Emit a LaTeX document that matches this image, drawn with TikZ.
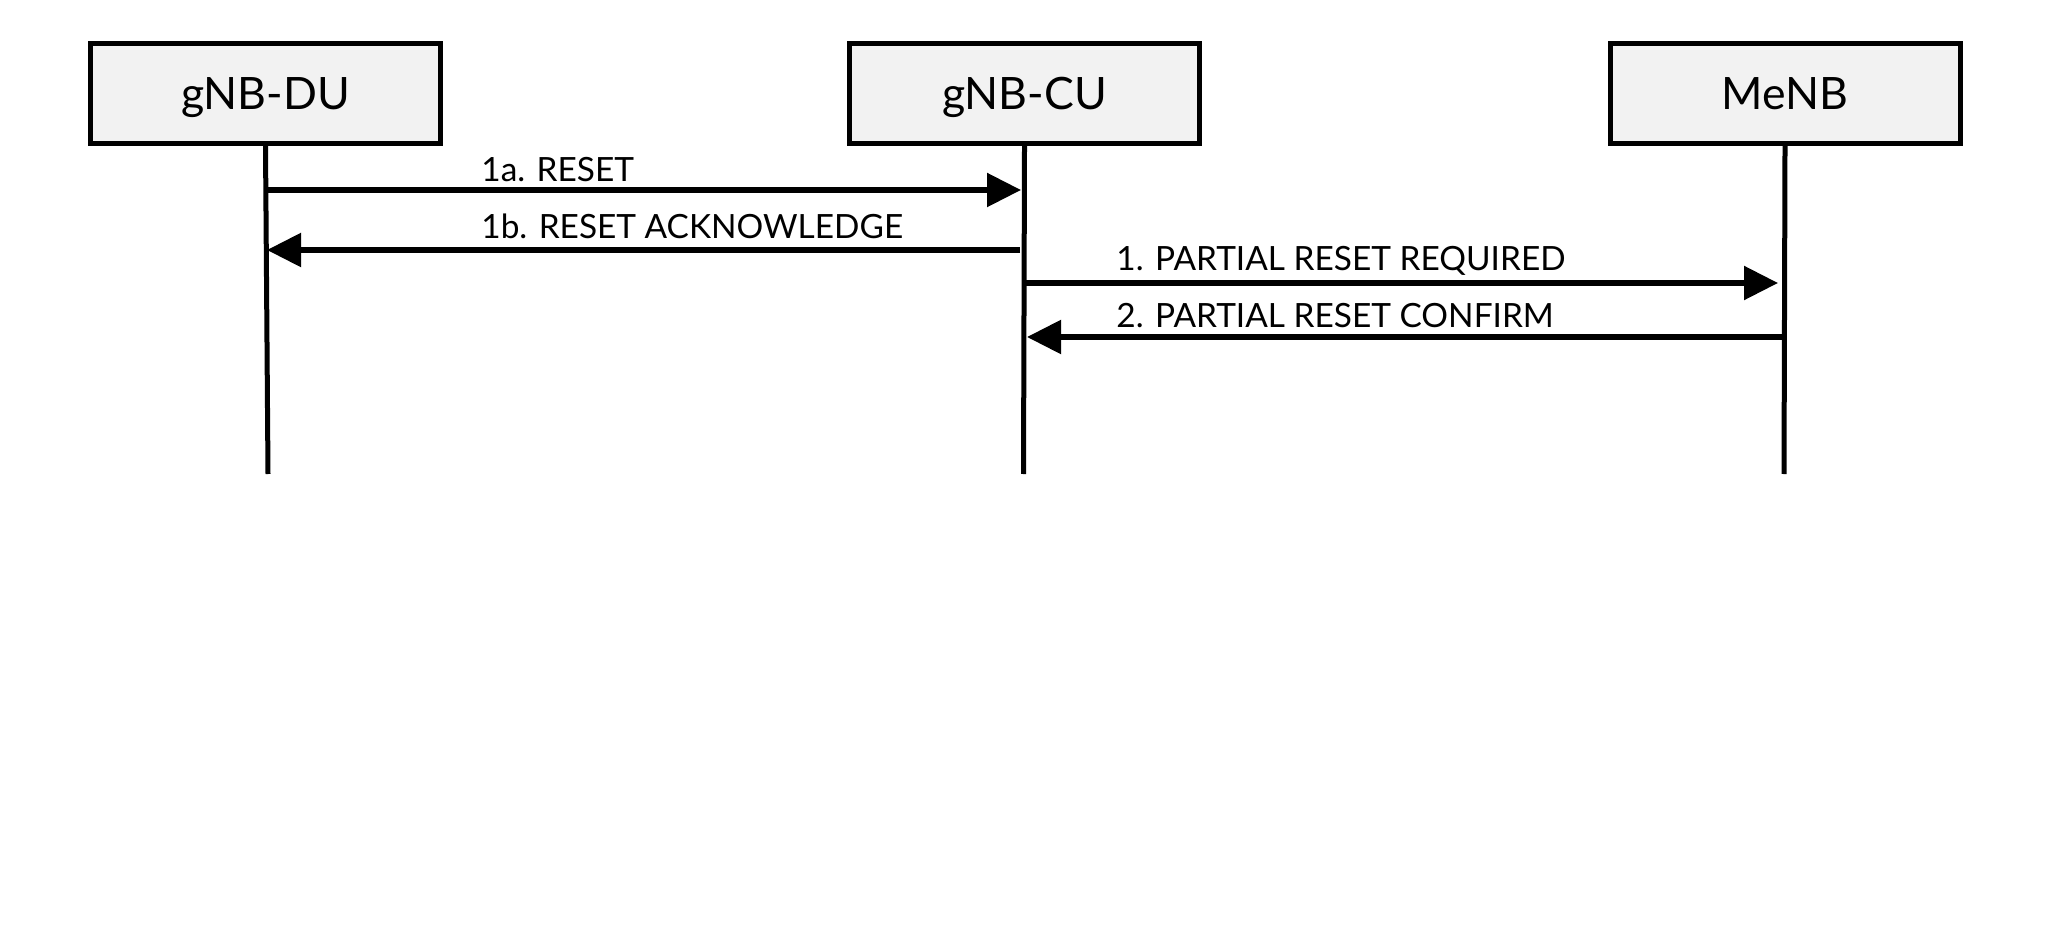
\documentclass[tikz,border=0pt]{standalone}
\usepackage{fontspec}
\setmainfont{Lato}
\usetikzlibrary{arrows.meta}
\begin{document}
\begin{tikzpicture}[x=0.5pt,y=-0.5pt,
  entity/.style={draw=black, line width=2.5pt, fill=black!5, minimum width=175pt, minimum height=50pt, inner sep=0pt, text height=16pt, text depth=0pt, font=\fontsize{22.3}{26}\selectfont},
  lifeline/.style={line width=2.5pt},
  msg/.style={line width=2.7pt, -{Triangle[length=17pt,width=16.5pt]}},
  msglabel/.style={anchor=base west, inner sep=0pt, font=\fontsize{16.7}{20}\selectfont}]
\useasboundingbox (0,0) rectangle (2048,935);
% entities
\node[entity] (du) at (265.5,93.5) {gNB-DU};
\node[entity] (cu) at (1024.5,93.5) {gNB-CU};
\node[entity] (menb) at (1785,93.5) {MeNB};
% lifeline ends
\coordinate (duend) at (268,474);
\coordinate (cuend) at (1023.5,474);
\coordinate (menbend) at (1784,474);
\draw[lifeline] (du.south) -- (duend);
\draw[lifeline] (cu.south) -- (cuend);
\draw[lifeline] (menb.south) -- (menbend);
% message end points on lifelines
\coordinate (du1a) at (266,190);
\coordinate (cu1a) at (1021,190);
\coordinate (cu1b) at (1020,250);
\coordinate (du1b) at (267,250);
\coordinate (cu1) at (1026,283);
\coordinate (menb1) at (1778,283);
\coordinate (menb2) at (1782,337);
\coordinate (cu2) at (1027,337);
% messages
\draw[msg] (du1a) -- (cu1a);
\draw[msg] (cu1b) -- (du1b);
\draw[msg] (cu1) -- (menb1);
\draw[msg] (menb2) -- (cu2);
% labels
\node[msglabel] (l1a) at (481,182) {1a. RESET};
\node[msglabel] (l1b) at (481,239) {1b. RESET ACKNOWLEDGE};
\node[msglabel] (l1) at (1116,271) {1. PARTIAL RESET REQUIRED};
\node[msglabel] (l2) at (1116,328) {2. PARTIAL RESET CONFIRM};
\end{tikzpicture}
\end{document}
